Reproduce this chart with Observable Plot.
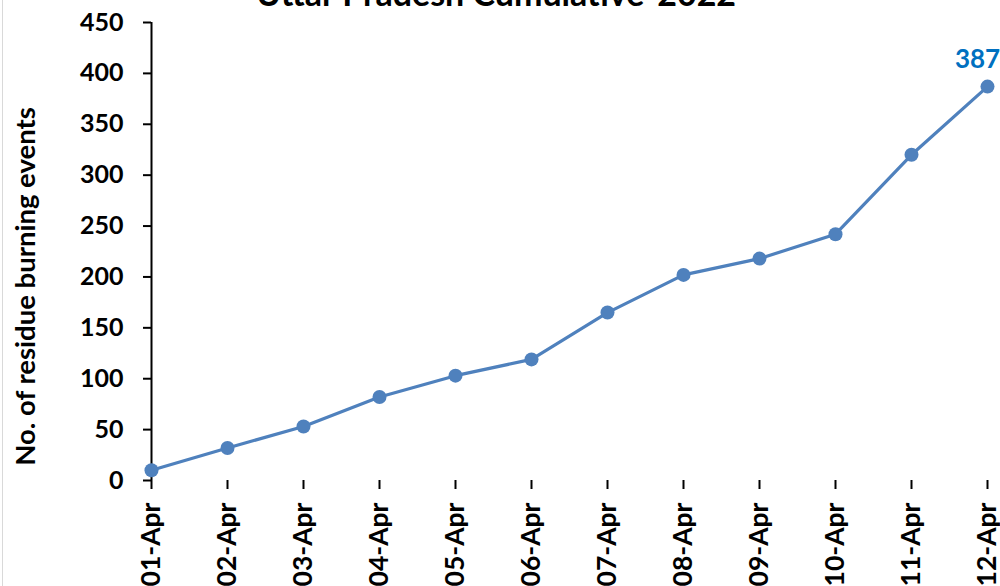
<!DOCTYPE html>
<html>
<head>
<meta charset="utf-8">
<script src="https://cdn.jsdelivr.net/npm/d3@7"></script>
<script src="https://cdn.jsdelivr.net/npm/@observablehq/plot@0.6"></script>
<style>
  html, body { margin: 0; padding: 0; background: #fff; overflow: hidden; }
  #wrap { position: relative; width: 1000px; height: 586px; overflow: hidden; }
  #title { position: absolute; left: 0; width: 992px; top: -24px; text-align: center;
           font-family: Lato, sans-serif; font-weight: bold; font-size: 34px; line-height: 34px; color: #000; }
  #edge { position: absolute; left: 2px; top: 0; width: 1px; height: 586px; background: #d9d9d9; }
  svg { display: block; }
</style>
</head>
<body>
<div id="wrap">
  <div id="chart"></div>
  <div id="title">Uttar Pradesh Cumulative-2022</div>
  <div id="edge"></div>
</div>
<script>
const dates = ["01-Apr","02-Apr","03-Apr","04-Apr","05-Apr","06-Apr","07-Apr","08-Apr","09-Apr","10-Apr","11-Apr","12-Apr"];
const values = [10, 32, 53, 82, 103, 119, 165, 202, 218, 242, 320, 387];
const yTicks = [0, 50, 100, 150, 200, 250, 300, 350, 400, 450];
const yLabel = "No. of residue burning events";

const data = dates.map((d, i) => ({date: d, value: values[i]}));
const last = data[data.length - 1];
const color = "#4f81bd";

const chart = Plot.plot({
  width: 1000,
  height: 586,
  marginLeft: 151,
  marginRight: 13,
  marginTop: 22,
  marginBottom: 106,
  style: {fontFamily: "Lato, sans-serif", fontWeight: "bold", fontSize: "25px", color: "#000", background: "#fff"},
  x: {type: "point", domain: dates, padding: 0},
  y: {domain: [0, 450]},
  marks: [
    Plot.axisY({ticks: yTicks, tickSize: 8, tickPadding: 20, stroke: "#000", strokeWidth: 2, label: null, fontSize: 25}),
    Plot.ruleX([0], {x: () => dates[0], y1: 0, y2: 450, stroke: "#000", strokeWidth: 2}),
    Plot.text([yLabel], {frameAnchor: "left", dx: -125, dy: 35, rotate: -90, fontSize: 27.5, text: d => d, textAnchor: "middle"}),
    Plot.axisX({tickSize: 9, tickPadding: 13, tickRotate: -90, stroke: "#000", strokeWidth: 2, label: null, fontSize: 26.5}),
    Plot.ruleY([0], {x1: -8, x2: 450, stroke: "#000", strokeWidth: 2}),
    Plot.line(data, {x: "date", y: "value", stroke: color, strokeWidth: 3.2}),
    Plot.dot(data, {x: "date", y: "value", fill: color, r: 7}),
    Plot.text([last], {x: "date", y: "value", text: d => String(d.value), dy: -27, dx: -10, fill: "#0070c0", fontSize: 26})
  ]
});
document.getElementById("chart").appendChild(chart);
</script>
</body>
</html>
